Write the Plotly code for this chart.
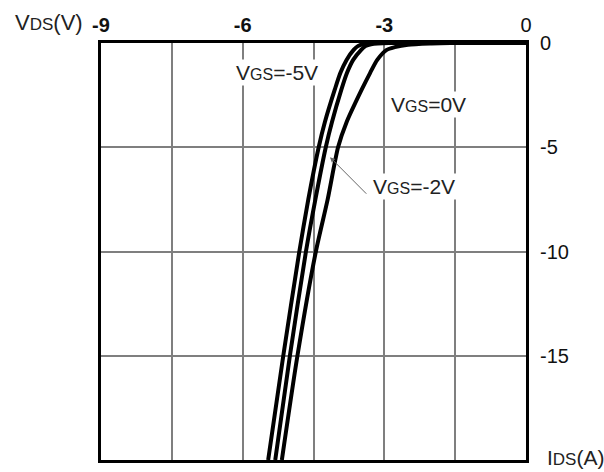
import plotly.graph_objects as go

# readings (I_DS in A, V_DS in V)
vds = [0, -0.06, -0.15, -0.33, -0.81, -1.43, -2.24, -3.8, -5, -7.5, -10, -15, -20]
ids_vgs_m5 = [-3.2, -3.46, -3.56, -3.65, -3.80, -3.93, -4.05, -4.26, -4.39, -4.61, -4.80, -5.14, -5.46]
ids_vgs_m2 = [-2.9, -3.28, -3.40, -3.49, -3.66, -3.79, -3.91, -4.11, -4.24, -4.46, -4.66, -5.00, -5.31]

vds_0 = [0, -0.02, -0.08, -0.2, -0.33, -0.81, -1.43, -2.24, -3.8, -5, -7.5, -10, -15, -20]
ids_vgs_0 = [-1.6, -2.0, -2.5, -2.78, -2.95, -3.15, -3.30, -3.48, -3.80, -3.98, -4.20, -4.45, -4.84, -5.17]

# flat part along V_DS = 0 up to I_DS = 0
flat_ids = [0]
flat_vds = [0]

x_grid = [-9, -7.5, -6, -4.5, -3, -1.5, 0]
x_text = ['<b>-9</b>', '', '<b>-6</b>', '', '<b>-3</b>', '', '0']
y_grid = [0, -5, -10, -15, -20]
y_text = ['0', '-5', '-10', '-15', '']

FONT = 'Liberation Sans, Arial, sans-serif'
line = dict(color='black', width=4, shape='spline', smoothing=0.7)

fig = go.Figure()
for ids, v in [(ids_vgs_m5, vds), (ids_vgs_m2, vds), (ids_vgs_0, vds_0)]:
    fig.add_trace(go.Scatter(x=flat_ids + ids, y=flat_vds + v, mode='lines', line=line))


def sub(main, small, rest, size=16):
    return main + "<span style='font-size:%dpx'>" % size + small + "</span>" + rest


lab = dict(showarrow=False, bgcolor='white', font=dict(size=21, color='#222'))
fig.add_annotation(x=-5.27, y=-1.43, text=sub('V', 'GS', '=-5V'), **lab)
fig.add_annotation(x=-2.07, y=-2.95, text=sub('V', 'GS', '=0V'), **lab)
fig.add_annotation(x=-2.37, y=-6.86, text=sub('V', 'GS', '=-2V'), **lab)
fig.add_annotation(x=-4.15, y=-5.48, ax=-3.35, ay=-7.3, axref='x', ayref='y',
                   text='', showarrow=True, arrowhead=2, arrowsize=1,
                   arrowwidth=1, arrowcolor='#666')

fig.add_annotation(x=-0.038, y=1.05, xref='paper', yref='paper',
                   text=sub('V', 'DS', '(V)', 17),
                   showarrow=False, xanchor='right', yanchor='middle',
                   font=dict(size=22, color='#222'))
fig.add_annotation(x=1.045, y=0.005, xref='paper', yref='paper',
                   text=sub('I', 'DS', '(A)', 17),
                   showarrow=False, xanchor='left', yanchor='middle',
                   font=dict(size=21, color='#222'))

fig.update_layout(
    width=604, height=472,
    margin=dict(l=101, r=78, t=43, b=9),
    paper_bgcolor='white', plot_bgcolor='white',
    showlegend=False,
    font=dict(family=FONT, size=20, color='#222'),
    xaxis=dict(range=[-9, 0], side='top', tickvals=x_grid, ticktext=x_text,
               showgrid=True, gridcolor='#7f7f7f', gridwidth=1.5,
               showline=True, linecolor='black', linewidth=3, mirror=True,
               zeroline=False, ticks='', ticklabelstandoff=0,
               tickfont=dict(size=20, color='#111')),
    yaxis=dict(range=[-20, 0], side='right', tickvals=y_grid, ticktext=y_text,
               showgrid=True, gridcolor='#7f7f7f', gridwidth=1.5,
               showline=True, linecolor='black', linewidth=3, mirror=True,
               zeroline=False, ticks='', ticklabelstandoff=7,
               tickfont=dict(size=20, color='#111')),
)

fig.write_html('out.html', config={'displayModeBar': False},
               post_script="document.body.style.margin='0';")
